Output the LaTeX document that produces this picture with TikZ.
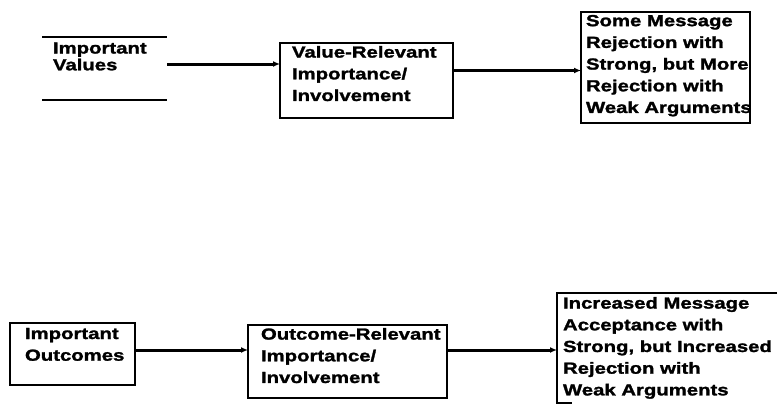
\documentclass[tikz,border=0pt]{standalone}
\usepackage{fontspec}
\newfontfamily\dfont{Liberation Sans Bold}[FakeStretch=1.27, FakeBold=1.6]
\usetikzlibrary{arrows.meta}
\tikzset{
  boxshape/.style={rectangle, inner sep=0pt, outer sep=0pt, line width=1.4pt},
  drawnbox/.style={boxshape, draw},
  txt/.style={anchor=north west, inner sep=0pt, outer sep=0pt, align=left,
    font=\dfont\fontsize{16}{21.7}\selectfont},
  txttight/.style={txt, font=\dfont\fontsize{16}{16.8}\selectfont},
  arr/.style={line width=3pt, -{Latex[length=7pt,width=6pt]}},
  edge/.style={line width=1.4pt}
}
\begin{document}
\begin{tikzpicture}[x=1pt,y=-1pt]
\useasboundingbox (0,0) rectangle (778,404);
% top row
\node[boxshape, minimum width=125pt, minimum height=63pt] (b1) at (104.5,68.5) {};
\draw[edge] (b1.north west) -- (b1.north east);
\draw[edge] (b1.south west) -- (b1.south east);
\node[txttight] (t1) at (53,42.5) {Important\\Values};

\node[drawnbox, minimum width=173pt, minimum height=75pt] (b2) at (366.5,80.5) {};
\node[txt] (t2) at (292,46) {Value-Relevant\\Importance/\\Involvement};

\node[drawnbox, minimum width=169pt, minimum height=111pt] (b3) at (665.5,67.5) {};
\node[txt] (t3) at (586,15) {Some Message\\Rejection with\\Strong, but More\\Rejection with\\Weak Arguments};

% bottom row
\node[drawnbox, minimum width=125pt, minimum height=62pt] (b4) at (72.5,354) {};
\node[txt] (t4) at (25,328) {Important\\Outcomes};

\node[drawnbox, minimum width=199pt, minimum height=73pt] (b5) at (347.5,361.5) {};
\node[txt] (t5) at (261,328) {Outcome-Relevant\\Importance/\\Involvement};

\node[boxshape, minimum width=220pt, minimum height=110pt] (b6) at (667,348) {};
\draw[edge] (b6.north east) -- (b6.north west) -- (b6.south west) -- ++(15,0);
\node[txt] (t6) at (563,297) {Increased Message\\Acceptance with\\Strong, but Increased\\Rejection with\\Weak Arguments};

% arrows
\coordinate (s1) at ([yshift=4.5pt]b1.east);
\coordinate (s2) at ([yshift=10pt]b2.east);
\coordinate (s3) at ([yshift=4pt]b4.east);
\coordinate (s4) at ([yshift=11.5pt]b5.east);
\draw[arr] (s1) -- (s1 -| b2.west);
\draw[arr] (s2) -- (s2 -| b3.west);
\draw[arr] (s3) -- (s3 -| b5.west);
\draw[arr] (s4) -- (s4 -| b6.west);
\end{tikzpicture}
\end{document}
